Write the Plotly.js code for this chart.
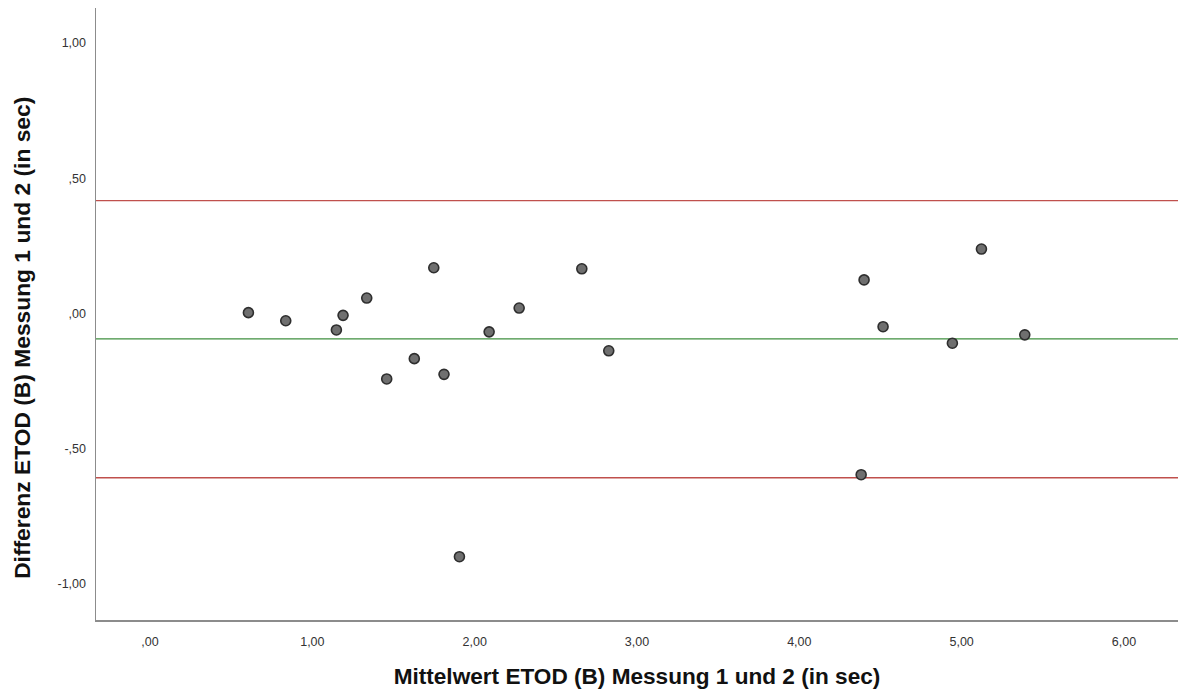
<!DOCTYPE html>
<html>
<head>
<meta charset="utf-8">
<script src="https://cdn.plot.ly/plotly-3.0.1.min.js"></script>
<style>html,body{margin:0;padding:0;background:#fff}</style>
</head>
<body>
<div id="chart" style="width:1180px;height:695px"></div>
<script>
// Mean of measurements 1 and 2 (x) and their difference (y), in seconds
const meanValues = [0.606, 0.836, 1.148, 1.189, 1.335, 1.748, 1.458, 1.628, 1.811, 2.089,
                    2.274, 2.660, 2.826, 4.399, 4.516, 5.122, 4.943, 5.389, 4.381, 1.906];
const diffValues = [0.003, -0.027, -0.061, -0.007, 0.057, 0.169, -0.242, -0.167, -0.225, -0.068,
                    0.020, 0.165, -0.138, 0.124, -0.049, 0.238, -0.110, -0.079, -0.596, -0.899];

// Reference lines (mean difference and limits of agreement)
const meanDiff = -0.094;
const upperLoA = 0.417;
const lowerLoA = -0.607;

// Tick labels
const xTickVals = [0, 1, 2, 3, 4, 5, 6];
const xTickText = [",00", "1,00", "2,00", "3,00", "4,00", "5,00", "6,00"];
const yTickVals = [-1, -0.5, 0, 0.5, 1];
const yTickText = ["-1,00", "-,50", ",00", ",50", "1,00"];

const xTitle = "Mittelwert ETOD (B) Messung 1 und 2 (in sec)";
const yTitle = "Differenz ETOD (B) Messung 1 und 2 (in sec)";

const fontFam = "Liberation Sans, Arial, sans-serif";

const trace = {
  type: "scatter",
  mode: "markers",
  x: meanValues,
  y: diffValues,
  marker: {size: 10, color: "#6f6f6f", line: {color: "#2e2e2e", width: 1.6}},
  hoverinfo: "x+y",
  showlegend: false
};

function hline(y, color) {
  return {type: "line", xref: "paper", x0: 0, x1: 1, yref: "y", y0: y, y1: y,
          line: {color: color, width: 1.4}, layer: "below"};
}

const layout = {
  width: 1180, height: 695,
  margin: {l: 96, r: 2, t: 8, b: 75},
  paper_bgcolor: "#ffffff",
  plot_bgcolor: "#ffffff",
  font: {family: fontFam, color: "#333333", size: 12},
  xaxis: {
    range: [-0.333, 6.333],
    tickvals: xTickVals, ticktext: xTickText,
    showgrid: false, zeroline: false,
    showline: true, linecolor: "#8c8c8c", linewidth: 1.5,
    ticks: "", ticklabelstandoff: 9,
    tickfont: {family: fontFam, size: 12.5, color: "#333333"},
    title: {text: xTitle, standoff: 20, font: {family: fontFam, size: 22.6, color: "#111111", weight: "bold"}}
  },
  yaxis: {
    range: [-1.133, 1.129],
    tickvals: yTickVals, ticktext: yTickText,
    showgrid: false, zeroline: false,
    showline: true, linecolor: "#8c8c8c", linewidth: 1.5,
    ticks: "", ticklabelstandoff: 6,
    tickfont: {family: fontFam, size: 12.5, color: "#333333"}
  },
  annotations: [{
    text: yTitle, textangle: -90, showarrow: false,
    xref: "paper", yref: "paper", x: -0.0684, y: 0.461,
    xanchor: "center", yanchor: "middle",
    font: {family: fontFam, size: 22.8, color: "#111111", weight: "bold"}
  }],
  shapes: [
    hline(upperLoA, "#c0504d"),
    hline(meanDiff, "#3f8f3f"),
    hline(lowerLoA, "#c0504d")
  ]
};

Plotly.newPlot("chart", [trace], layout, {displayModeBar: false, staticPlot: true});
</script>
</body>
</html>
